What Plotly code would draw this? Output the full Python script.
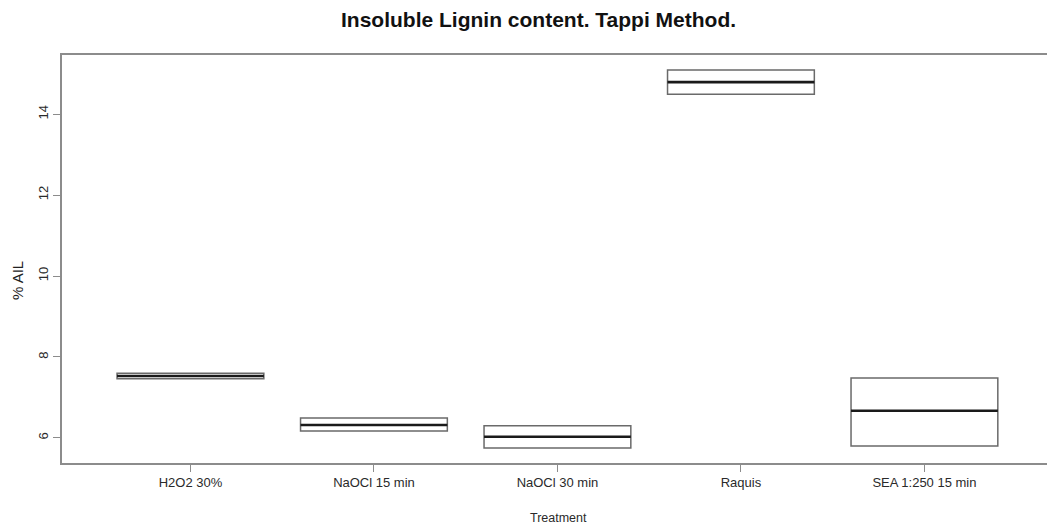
import plotly.graph_objects as go

categories = ["H2O2 30%", "NaOCl 15 min", "NaOCl 30 min", "Raquis", "SEA 1:250 15 min"]
q1_vals = [7.46, 6.17, 5.75, 14.49, 5.80]
median_vals = [7.53, 6.32, 6.03, 14.79, 6.67]
q3_vals = [7.60, 6.49, 6.30, 15.09, 7.48]

y_ticks = [6, 8, 10, 12, 14]

FONT = "Liberation Sans, Arial, sans-serif"

fig = go.Figure()
fig.add_trace(go.Box(
    x=categories, q1=q1_vals, median=median_vals, q3=q3_vals,
    lowerfence=q1_vals, upperfence=q3_vals,
    width=0.8, whiskerwidth=0, fillcolor="white",
    line=dict(color="#6a6a6a", width=1.5), boxpoints=False,
    showlegend=False, hoverinfo="skip",
))
fig.add_trace(go.Box(
    x=categories, q1=median_vals, median=median_vals, q3=median_vals,
    lowerfence=median_vals, upperfence=median_vals,
    width=0.8, whiskerwidth=0, fillcolor="rgba(0,0,0,0)",
    line=dict(color="#1a1a1a", width=2.6), boxpoints=False,
    showlegend=False, hoverinfo="skip",
))

fig.update_layout(
    width=1047, height=527,
    margin=dict(l=62, r=0, t=55, b=64),
    paper_bgcolor="white", plot_bgcolor="white",
    boxmode="overlay",
    font=dict(family=FONT, color="#222", size=13),
    showlegend=False,
    xaxis=dict(
        type="category", range=[-0.7, 4.668],
        showgrid=False, zeroline=False,
        showline=True, linecolor="#8c8c8c", linewidth=1.5, mirror=True,
        ticks="outside", ticklen=7, tickcolor="#8c8c8c", tickwidth=1,
        tickfont=dict(size=13, color="#2a2a2a"),
    ),
    yaxis=dict(
        range=[5.38, 15.46], tickvals=y_ticks,
        showgrid=False, zeroline=False,
        showline=True, linecolor="#8c8c8c", linewidth=1.5, mirror=False,
        ticks="outside", ticklen=7, tickcolor="#8c8c8c", tickwidth=1,
        tickangle=-90, tickfont=dict(size=13, color="#2a2a2a"),
    ),
)

pw = 1047 - 62
ph = 527 - 55 - 64
def px(x):
    return (x - 62) / pw
def py(y):
    return (527 - 64 - y) / ph

fig.update_layout(annotations=[
    dict(text="<b>Insoluble Lignin content. Tappi Method.</b>",
         x=px(538), y=py(19), xref="paper", yref="paper",
         xanchor="center", yanchor="middle", showarrow=False,
         font=dict(size=21, color="#111", family=FONT)),
    dict(text="Treatment", x=px(558), y=py(518), xref="paper", yref="paper",
         xanchor="center", yanchor="middle", showarrow=False,
         font=dict(size=12.5, color="#2a2a2a", family=FONT)),
    dict(text="% AIL", textangle=-90, x=px(17), y=py(281), xref="paper", yref="paper",
         xanchor="center", yanchor="middle", showarrow=False,
         font=dict(size=15, color="#222", family=FONT)),
])

fig.write_html("out.html")
